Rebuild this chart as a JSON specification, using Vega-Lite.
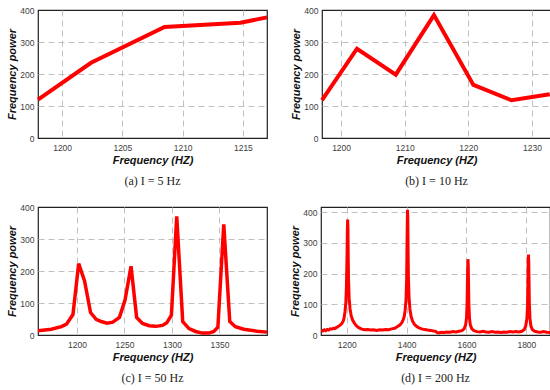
{
  "$schema": "https://vega.github.io/schema/vega-lite/v6.json",
  "padding": {"left": 6, "top": 5, "right": 4, "bottom": 2},
  "config": {
    "view": {"stroke": "#222", "strokeWidth": 1.2},
    "axis": {"grid": true, "gridDash": [6, 4], "gridColor": "#c0c0c0", "gridWidth": 1, "domain": false, "ticks": false,
      "labelFont": "Liberation Sans", "labelFontSize": 8.5, "labelColor": "#404040",
      "titleFont": "Liberation Sans", "titleFontWeight": "bold", "titleFontStyle": "italic", "titleFontSize": 11, "titleColor": "#111"},
    "axisX": {"labelPadding": 5, "titlePadding": 3},
    "axisY": {"labelPadding": 4, "titlePadding": 2},
    "title": {"font": "Liberation Serif", "fontSize": 12, "fontWeight": "normal", "orient": "bottom", "color": "#222", "offset": 10},
    "line": {"color": "#ff0000", "strokeWidth": 4, "clip": true}
  },
  "datasets": {
    "a": [{"f": 1198, "p": 120}, {"f": 1202.4, "p": 235}, {"f": 1208.5, "p": 347}, {"f": 1214.8, "p": 360}, {"f": 1217, "p": 377}],
    "b": [{"f": 1197, "p": 118}, {"f": 1202.5, "p": 279}, {"f": 1208.6, "p": 198}, {"f": 1214.6, "p": 384}, {"f": 1220.8, "p": 166}, {"f": 1226.8, "p": 118}, {"f": 1232.8, "p": 137}],
    "c": [{"f": 1159, "p": 13}, {"f": 1173, "p": 18}, {"f": 1183.6, "p": 26}, {"f": 1189, "p": 34}, {"f": 1195.8, "p": 64}, {"f": 1201.8, "p": 223}, {"f": 1208, "p": 169}, {"f": 1214.3, "p": 70}, {"f": 1220.2, "p": 49}, {"f": 1225.5, "p": 42}, {"f": 1231.7, "p": 37}, {"f": 1237.7, "p": 40}, {"f": 1244.7, "p": 55}, {"f": 1250.6, "p": 109}, {"f": 1256.9, "p": 215}, {"f": 1262.8, "p": 55}, {"f": 1269, "p": 36}, {"f": 1276, "p": 29}, {"f": 1283, "p": 27}, {"f": 1290, "p": 30}, {"f": 1294.5, "p": 38}, {"f": 1299.4, "p": 62}, {"f": 1305, "p": 371}, {"f": 1311.3, "p": 42}, {"f": 1317.9, "p": 20}, {"f": 1324.9, "p": 11}, {"f": 1331.9, "p": 6}, {"f": 1338.8, "p": 6}, {"f": 1344, "p": 11}, {"f": 1348.3, "p": 24}, {"f": 1354.5, "p": 346}, {"f": 1360.8, "p": 42}, {"f": 1366.7, "p": 26}, {"f": 1375.5, "p": 18}, {"f": 1389.4, "p": 12}, {"f": 1400, "p": 9}],
    "d": [{"f": 1115, "p": 15}, {"f": 1120, "p": 13}, {"f": 1125, "p": 17}, {"f": 1130, "p": 14}, {"f": 1135, "p": 18}, {"f": 1140, "p": 16}, {"f": 1145, "p": 20}, {"f": 1150, "p": 19}, {"f": 1155, "p": 22}, {"f": 1160, "p": 21}, {"f": 1165, "p": 24}, {"f": 1170, "p": 27}, {"f": 1178, "p": 32}, {"f": 1184, "p": 38}, {"f": 1188, "p": 45}, {"f": 1191, "p": 55}, {"f": 1194, "p": 75}, {"f": 1197, "p": 105}, {"f": 1199, "p": 160}, {"f": 1201, "p": 260}, {"f": 1202, "p": 340}, {"f": 1203, "p": 376}, {"f": 1204, "p": 350}, {"f": 1205, "p": 250}, {"f": 1206, "p": 180}, {"f": 1208, "p": 120}, {"f": 1211, "p": 85}, {"f": 1215, "p": 62}, {"f": 1220, "p": 48}, {"f": 1226, "p": 38}, {"f": 1232, "p": 30}, {"f": 1240, "p": 24}, {"f": 1250, "p": 19}, {"f": 1260, "p": 17}, {"f": 1270, "p": 18}, {"f": 1280, "p": 16}, {"f": 1290, "p": 17}, {"f": 1300, "p": 15}, {"f": 1310, "p": 17}, {"f": 1320, "p": 16}, {"f": 1330, "p": 18}, {"f": 1340, "p": 17}, {"f": 1350, "p": 20}, {"f": 1360, "p": 22}, {"f": 1370, "p": 28}, {"f": 1378, "p": 33}, {"f": 1384, "p": 40}, {"f": 1388, "p": 48}, {"f": 1392, "p": 60}, {"f": 1395, "p": 80}, {"f": 1398, "p": 115}, {"f": 1400, "p": 180}, {"f": 1401, "p": 260}, {"f": 1402, "p": 350}, {"f": 1403, "p": 408}, {"f": 1404, "p": 380}, {"f": 1405, "p": 270}, {"f": 1406, "p": 190}, {"f": 1408, "p": 125}, {"f": 1411, "p": 85}, {"f": 1415, "p": 60}, {"f": 1420, "p": 45}, {"f": 1426, "p": 35}, {"f": 1433, "p": 28}, {"f": 1440, "p": 24}, {"f": 1450, "p": 20}, {"f": 1460, "p": 18}, {"f": 1470, "p": 16}, {"f": 1480, "p": 15}, {"f": 1490, "p": 13}, {"f": 1497, "p": 12}, {"f": 1502, "p": 8}, {"f": 1508, "p": 7}, {"f": 1515, "p": 9}, {"f": 1525, "p": 8}, {"f": 1535, "p": 10}, {"f": 1545, "p": 9}, {"f": 1555, "p": 11}, {"f": 1565, "p": 10}, {"f": 1575, "p": 12}, {"f": 1585, "p": 14}, {"f": 1592, "p": 20}, {"f": 1597, "p": 32}, {"f": 1600, "p": 55}, {"f": 1602, "p": 100}, {"f": 1603, "p": 160}, {"f": 1604, "p": 220}, {"f": 1605, "p": 247}, {"f": 1606, "p": 225}, {"f": 1607, "p": 160}, {"f": 1608, "p": 100}, {"f": 1610, "p": 55}, {"f": 1613, "p": 32}, {"f": 1618, "p": 20}, {"f": 1625, "p": 14}, {"f": 1635, "p": 11}, {"f": 1645, "p": 10}, {"f": 1655, "p": 12}, {"f": 1665, "p": 10}, {"f": 1675, "p": 9}, {"f": 1685, "p": 11}, {"f": 1695, "p": 9}, {"f": 1705, "p": 10}, {"f": 1715, "p": 8}, {"f": 1725, "p": 10}, {"f": 1735, "p": 9}, {"f": 1745, "p": 11}, {"f": 1755, "p": 10}, {"f": 1765, "p": 11}, {"f": 1775, "p": 10}, {"f": 1785, "p": 12}, {"f": 1793, "p": 18}, {"f": 1798, "p": 30}, {"f": 1802, "p": 55}, {"f": 1804, "p": 100}, {"f": 1805, "p": 160}, {"f": 1806, "p": 230}, {"f": 1807, "p": 262}, {"f": 1808, "p": 240}, {"f": 1809, "p": 170}, {"f": 1810, "p": 105}, {"f": 1812, "p": 55}, {"f": 1815, "p": 30}, {"f": 1820, "p": 18}, {"f": 1828, "p": 12}, {"f": 1838, "p": 10}, {"f": 1848, "p": 9}, {"f": 1858, "p": 11}, {"f": 1868, "p": 9}, {"f": 1879, "p": 8}]
  },
  "vconcat": [
    {
      "hconcat": [
        {
          "width": 229, "height": 128,
          "title": "(a) I = 5 Hz",
          "data": {"name": "a"},
          "mark": {"type": "line"},
          "encoding": {
            "x": {"field": "f", "type": "quantitative", "title": "Frequency (HZ)", "scale": {"domain": [1198, 1217], "nice": false, "zero": false}, "axis": {"values": [1200, 1205, 1210, 1215], "format": "d"}},
            "y": {"field": "p", "type": "quantitative", "title": "Frequency power", "scale": {"domain": [0, 400], "nice": false}, "axis": {"values": [0, 100, 200, 300, 400], "gridOpacity": {"condition": {"test": "datum.value == 0 || datum.value == 400", "value": 0}, "value": 1}}}
          }
        },
        {
          "width": 229, "height": 128,
          "title": "(b) I = 10 Hz",
          "data": {"name": "b"},
          "mark": {"type": "line"},
          "encoding": {
            "x": {"field": "f", "type": "quantitative", "title": "Frequency (HZ)", "scale": {"domain": [1197, 1233], "nice": false, "zero": false}, "axis": {"values": [1200, 1210, 1220, 1230], "format": "d"}},
            "y": {"field": "p", "type": "quantitative", "title": "Frequency power", "scale": {"domain": [0, 400], "nice": false}, "axis": {"values": [0, 100, 200, 300, 400], "gridOpacity": {"condition": {"test": "datum.value == 0 || datum.value == 400", "value": 0}, "value": 1}}}
          }
        }
      ],
      "spacing": 14
    },
    {
      "hconcat": [
        {
          "width": 229, "height": 128,
          "title": "(c) I = 50 Hz",
          "data": {"name": "c"},
          "mark": {"type": "line", "strokeWidth": 3.5},
          "encoding": {
            "x": {"field": "f", "type": "quantitative", "title": "Frequency (HZ)", "scale": {"domain": [1159, 1400], "nice": false, "zero": false}, "axis": {"values": [1200, 1250, 1300, 1350], "format": "d"}},
            "y": {"field": "p", "type": "quantitative", "title": "Frequency power", "scale": {"domain": [0, 400], "nice": false}, "axis": {"values": [0, 100, 200, 300, 400], "gridOpacity": {"condition": {"test": "datum.value == 0 || datum.value == 400", "value": 0}, "value": 1}}}
          }
        },
        {
          "width": 229, "height": 128,
          "title": "(d) I = 200 Hz",
          "data": {"name": "d"},
          "mark": {"type": "line", "strokeWidth": 3},
          "encoding": {
            "x": {"field": "f", "type": "quantitative", "title": "Frequency (HZ)", "scale": {"domain": [1114, 1879], "nice": false, "zero": false}, "axis": {"values": [1200, 1400, 1600, 1800], "format": "d"}},
            "y": {"field": "p", "type": "quantitative", "title": "Frequency power", "scale": {"domain": [0, 417], "nice": false}, "axis": {"values": [0, 100, 200, 300, 400], "gridOpacity": {"condition": {"test": "datum.value == 0", "value": 0}, "value": 1}}}
          }
        }
      ],
      "spacing": 14
    }
  ],
  "spacing": 14
}
